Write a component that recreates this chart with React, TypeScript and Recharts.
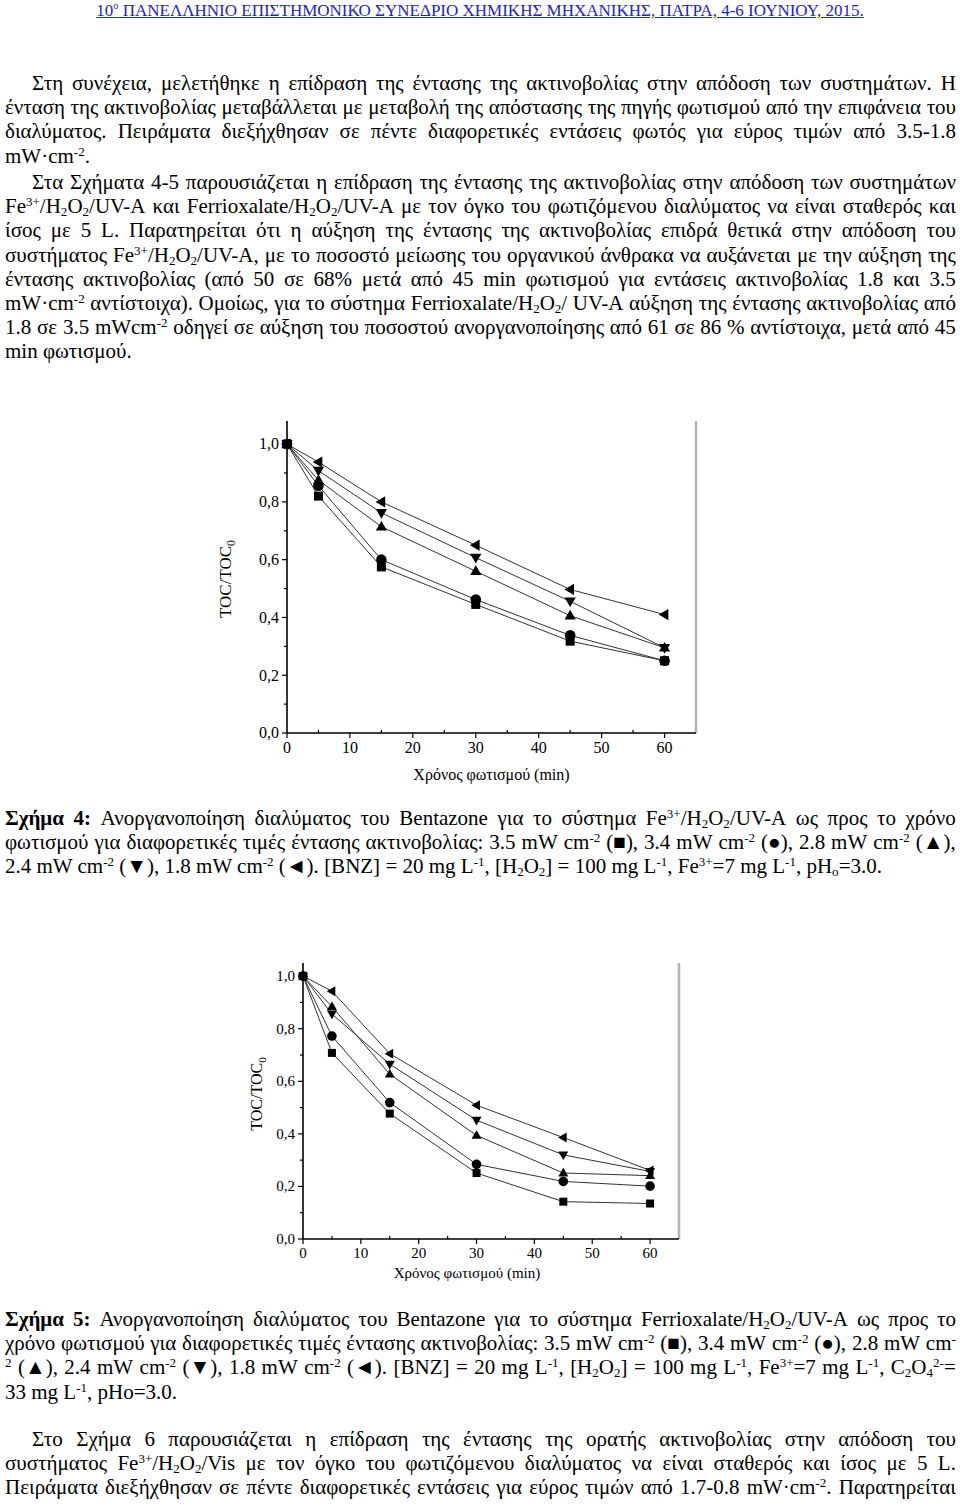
import React from "react";
import { LineChart, Line, XAxis, YAxis, ReferenceLine } from "recharts";

// irradiation time (min)
const times = [0, 5, 15, 30, 45, 60];

// Σχήμα 4 — Fe3+/H2O2/UV-A, TOC/TOC0
const fig4Square = [1.0, 0.82, 0.575, 0.445, 0.318, 0.25];
const fig4Circle = [1.0, 0.856, 0.6, 0.462, 0.338, 0.25];
const fig4Up = [1.0, 0.875, 0.714, 0.56, 0.406, 0.295];
const fig4Down = [1.0, 0.908, 0.762, 0.607, 0.456, 0.295];
const fig4Left = [1.0, 0.938, 0.8, 0.65, 0.497, 0.41];

// Σχήμα 5 — Ferrioxalate/H2O2/UV-A, TOC/TOC0
const fig5Square = [1.0, 0.708, 0.477, 0.251, 0.142, 0.135];
const fig5Circle = [1.0, 0.772, 0.519, 0.284, 0.219, 0.201];
const fig5Up = [1.0, 0.884, 0.627, 0.394, 0.251, 0.241];
const fig5Down = [1.0, 0.856, 0.665, 0.452, 0.32, 0.257];
const fig5Left = [1.0, 0.943, 0.705, 0.509, 0.386, 0.261];

const xTicks = [0, 5, 10, 15, 20, 25, 30, 35, 40, 45, 50, 55, 60];
const yTicks = [0, 0.1, 0.2, 0.3, 0.4, 0.5, 0.6, 0.7, 0.8, 0.9, 1.0];

const seriesKeys = ["s35", "s34", "s28", "s24", "s18"];
const seriesShapes = ["square", "circle", "up", "down", "left"];

const FONT = '"Liberation Serif", "Times New Roman", serif';
const LH = 24.2;

// ---------- text helpers ----------
function rich(word: string, key: any) {
  const parts = word.split(/(\*\*[^*]+\*\*|\^\{[^}]*\}|_\{[^}]*\})/).filter((p) => p !== "");
  return (
    <React.Fragment key={key}>
      {parts.map((p, i) => {
        if (p.startsWith("**")) return <b key={i}>{p.slice(2, -2)}</b>;
        if (p.startsWith("^{"))
          return <sup key={i} style={{ fontSize: "0.62em", lineHeight: 0, verticalAlign: "0.55em" }}>{p.slice(2, -1)}</sup>;
        if (p.startsWith("_{"))
          return <sub key={i} style={{ fontSize: "0.62em", lineHeight: 0, verticalAlign: "-0.25em" }}>{p.slice(2, -1)}</sub>;
        return <span key={i}>{p}</span>;
      })}
    </React.Fragment>
  );
}

function TextLine({ text, justify = true, indent = false }: any) {
  const words = text.split(/\s+/).filter(Boolean);
  const base: any = { height: LH, lineHeight: `${LH}px`, paddingLeft: indent ? 27 : 0, whiteSpace: "nowrap" };
  if (justify)
    return (
      <div style={{ ...base, display: "flex", justifyContent: "space-between", alignItems: "baseline" }}>
        {words.map((w: string, i: number) => <span key={i}>{rich(w, i)}</span>)}
      </div>
    );
  return (
    <div style={base}>
      {words.map((w: string, i: number) => (
        <React.Fragment key={i}>{i > 0 ? " " : ""}{rich(w, i)}</React.Fragment>
      ))}
    </div>
  );
}

function Block({ top, lines }: any) {
  return (
    <div style={{ position: "absolute", left: 5, top, width: 951, fontSize: 21, color: "#000" }}>
      {lines.map((l: any, i: number) => <TextLine key={i} {...l} />)}
    </div>
  );
}

const para1 = [
  { text: "Στη συνέχεια, μελετήθηκε η επίδραση της έντασης της ακτινοβολίας στην απόδοση των συστημάτων. Η", indent: true },
  { text: "ένταση της ακτινοβολίας μεταβάλλεται με μεταβολή της απόστασης της πηγής φωτισμού από την επιφάνεια του" },
  { text: "διαλύματος. Πειράματα διεξήχθησαν σε πέντε διαφορετικές εντάσεις φωτός για εύρος τιμών από 3.5-1.8" },
  { text: "mW·cm^{-2}.", justify: false },
];
const para2 = [
  { text: "Στα Σχήματα 4-5 παρουσιάζεται η επίδραση της έντασης της ακτινοβολίας στην απόδοση των συστημάτων", indent: true },
  { text: "Fe^{3+}/H_{2}O_{2}/UV-A και Ferrioxalate/H_{2}O_{2}/UV-A με τον όγκο του φωτιζόμενου διαλύματος να είναι σταθερός και" },
  { text: "ίσος με 5 L. Παρατηρείται ότι η αύξηση της έντασης της ακτινοβολίας επιδρά θετικά στην απόδοση του" },
  { text: "συστήματος Fe^{3+}/H_{2}O_{2}/UV-A, με το ποσοστό μείωσης του οργανικού άνθρακα να αυξάνεται με την αύξηση της" },
  { text: "έντασης ακτινοβολίας (από 50 σε 68% μετά από 45 min φωτισμού για εντάσεις ακτινοβολίας 1.8 και 3.5" },
  { text: "mW·cm^{-2} αντίστοιχα). Ομοίως, για το σύστημα Ferrioxalate/H_{2}O_{2}/ UV-A αύξηση της έντασης ακτινοβολίας από" },
  { text: "1.8 σε 3.5 mWcm^{-2} οδηγεί σε αύξηση του ποσοστού ανοργανοποίησης από 61 σε 86 % αντίστοιχα, μετά από 45" },
  { text: "min φωτισμού.", justify: false },
];
const caption4 = [
  { text: "**Σχήμα** **4:** Ανοργανοποίηση διαλύματος του Bentazone για το σύστημα Fe^{3+}/H_{2}O_{2}/UV-A ως προς το χρόνο" },
  { text: "φωτισμού για διαφορετικές τιμές έντασης ακτινοβολίας: 3.5 mW cm^{-2} (■), 3.4 mW cm^{-2} (●), 2.8 mW cm^{-2} (▲)," },
  { text: "2.4 mW cm^{-2} (▼), 1.8 mW cm^{-2} (◄). [BNZ] = 20 mg L^{-1}, [H_{2}O_{2}] = 100 mg L^{-1}, Fe^{3+}=7 mg L^{-1}, pH_{o}=3.0.", justify: false },
];
const caption5 = [
  { text: "**Σχήμα** **5:** Ανοργανοποίηση διαλύματος του Bentazone για το σύστημα Ferrioxalate/H_{2}O_{2}/UV-A ως προς το" },
  { text: "χρόνο φωτισμού για διαφορετικές τιμές έντασης ακτινοβολίας: 3.5 mW cm^{-2} (■), 3.4 mW cm^{-2} (●), 2.8 mW cm^{-}" },
  { text: "^{2} (▲), 2.4 mW cm^{-2} (▼), 1.8 mW cm^{-2} (◄). [BNZ] = 20 mg L^{-1}, [H_{2}O_{2}] = 100 mg L^{-1}, Fe^{3+}=7 mg L^{-1}, C_{2}O_{4}^{2-}=" },
  { text: "33 mg L^{-1}, pHo=3.0.", justify: false },
];
const para3 = [
  { text: "Στο Σχήμα 6 παρουσιάζεται η επίδραση της έντασης της ορατής ακτινοβολίας στην απόδοση του", indent: true },
  { text: "συστήματος Fe^{3+}/H_{2}O_{2}/Vis με τον όγκο του φωτιζόμενου διαλύματος να είναι σταθερός και ίσος με 5 L." },
  { text: "Πειράματα διεξήχθησαν σε πέντε διαφορετικές εντάσεις για εύρος τιμών από 1.7-0.8 mW·cm^{-2}. Παρατηρείται" },
];

// ---------- chart helpers ----------
const Marker = ({ cx, cy, shape, r }: any) => {
  if (cx == null || cy == null) return null;
  const f = "#000";
  switch (shape) {
    case "square":
      return <rect x={cx - r} y={cy - r} width={2 * r} height={2 * r} fill={f} />;
    case "circle":
      return <circle cx={cx} cy={cy} r={r + 0.8} fill={f} />;
    case "up":
      return <polygon points={`${cx},${cy - r * 1.3} ${cx + r * 1.25},${cy + r * 0.85} ${cx - r * 1.25},${cy + r * 0.85}`} fill={f} />;
    case "down":
      return <polygon points={`${cx},${cy + r * 1.3} ${cx + r * 1.25},${cy - r * 0.85} ${cx - r * 1.25},${cy - r * 0.85}`} fill={f} />;
    default:
      return <polygon points={`${cx - r * 1.3},${cy} ${cx + r * 0.85},${cy - r * 1.25} ${cx + r * 0.85},${cy + r * 1.25}`} fill={f} />;
  }
};

const XTick = ({ x, y, payload, fs }: any) => {
  const v = payload.value;
  const major = v % 10 === 0;
  return (
    <g>
      <line x1={x} x2={x} y1={y} y2={major ? y + 5 : y - 3} stroke="#000" strokeWidth={1.2} />
      {major && (
        <text x={x} y={y + fs + 4} textAnchor="middle" fontSize={fs} fontFamily={FONT} fill="#000">{v}</text>
      )}
    </g>
  );
};

const YTick = ({ x, y, payload, fs }: any) => {
  const v = payload.value;
  const major = Math.round(v * 10) % 2 === 0;
  return (
    <g>
      <line x1={x - (major ? 5 : 3)} x2={x} y1={y} y2={y} stroke="#000" strokeWidth={1.2} />
      {major && (
        <text x={x - 8} y={y + fs * 0.33} textAnchor="end" fontSize={fs} fontFamily={FONT} fill="#000">
          {v.toFixed(1).replace(".", ",")}
        </text>
      )}
    </g>
  );
};

function DecayChart({ values, cfg }: any) {
  const data = times.map((t, i) => {
    const row: any = { t };
    seriesKeys.forEach((k, j) => (row[k] = values[j][i]));
    return row;
  });
  return (
    <div style={{ position: "absolute", left: cfg.left, top: cfg.top }}>
      <LineChart width={cfg.w} height={cfg.h} data={data} margin={cfg.margin}>
        <XAxis
          type="number"
          dataKey="t"
          domain={[0, 65]}
          ticks={xTicks}
          height={cfg.xh}
          tickSize={0}
          tickMargin={0}
          tickLine={false}
          interval={0}
          tick={(p: any) => <XTick {...p} fs={cfg.fs} />}
          axisLine={{ stroke: "#000", strokeWidth: 1.6 }}
          label={{
            content: ({ viewBox }: any) => (
              <text x={viewBox.x + viewBox.width / 2 + cfg.titleDx} y={viewBox.y + cfg.titleDy} textAnchor="middle" fontSize={cfg.tfs} fontFamily={FONT} fill="#000">
                Χρόνος φωτισμού (min)
              </text>
            ),
          }}
        />
        <YAxis
          type="number"
          domain={[0, cfg.ymax]}
          ticks={yTicks}
          width={60}
          tickSize={0}
          tickMargin={0}
          tickLine={false}
          interval={0}
          tick={(p: any) => <YTick {...p} fs={cfg.fs} />}
          axisLine={{ stroke: "#000", strokeWidth: 1.6 }}
          label={{
            content: ({ viewBox }: any) => {
              const cx = viewBox.x + viewBox.width - cfg.ylabDx;
              const cy = viewBox.y + viewBox.height / 2 + cfg.ylabDy;
              return (
                <text x={cx} y={cy} transform={`rotate(-90 ${cx} ${cy})`} textAnchor="middle" fontSize={cfg.lfs} fontFamily={FONT} fill="#000">
                  TOC/TOC<tspan fontSize={cfg.lfs * 0.7} dy={4}>0</tspan>
                </text>
              );
            },
          }}
        />
        <ReferenceLine x={65} stroke="#b4b4b4" strokeWidth={2.5} />
        {seriesKeys.map((k, j) => (
          <Line
            key={k}
            dataKey={k}
            type="linear"
            stroke="#333"
            strokeWidth={1}
            isAnimationActive={false}
            dot={(p: any) => <Marker key={`${k}-${p.index}`} cx={p.cx} cy={p.cy} shape={seriesShapes[j]} r={cfg.r} />}
            activeDot={false}
          />
        ))}
      </LineChart>
    </div>
  );
}

const chart4 = {
  left: 200, top: 400, w: 520, h: 400,
  margin: { top: 21, right: 24, bottom: 27, left: 27 },
  xh: 40, ymax: 1.08, fs: 16, tfs: 16, lfs: 17, r: 4.5,
  titleDx: 0, titleDy: 47, ylabDx: 56, ylabDy: 2,
};
const chart5 = {
  left: 200, top: 940, w: 500, h: 360,
  margin: { top: 23, right: 21, bottom: 26, left: 43 },
  xh: 35, ymax: 1.05, fs: 15, tfs: 15, lfs: 16, r: 4,
  titleDx: -24, titleDy: 39, ylabDx: 41, ylabDy: -7,
};

export default function App() {
  return (
    <div style={{ position: "absolute", left: 0, top: 0, width: 960, height: 1505, background: "#fff", fontFamily: FONT, overflow: "hidden" }}>
      <div style={{ position: "absolute", left: 0, top: 1, width: 960, textAlign: "center", fontSize: 17, color: "#2323c4", textDecoration: "underline", whiteSpace: "nowrap" }}>
        10<sup style={{ fontSize: "0.6em", lineHeight: 0 }}>ο</sup> ΠΑΝΕΛΛΗΝΙΟ ΕΠΙΣΤΗΜΟΝΙΚΟ ΣΥΝΕΔΡΙΟ ΧΗΜΙΚΗΣ ΜΗΧΑΝΙΚΗΣ, ΠΑΤΡΑ, 4-6 ΙΟΥΝΙΟΥ, 2015.
      </div>
      <Block top={71} lines={para1} />
      <Block top={170} lines={para2} />
      <DecayChart values={[fig4Square, fig4Circle, fig4Up, fig4Down, fig4Left]} cfg={chart4} />
      <Block top={806} lines={caption4} />
      <DecayChart values={[fig5Square, fig5Circle, fig5Up, fig5Down, fig5Left]} cfg={chart5} />
      <Block top={1307} lines={caption5} />
      <Block top={1427} lines={para3} />
    </div>
  );
}
